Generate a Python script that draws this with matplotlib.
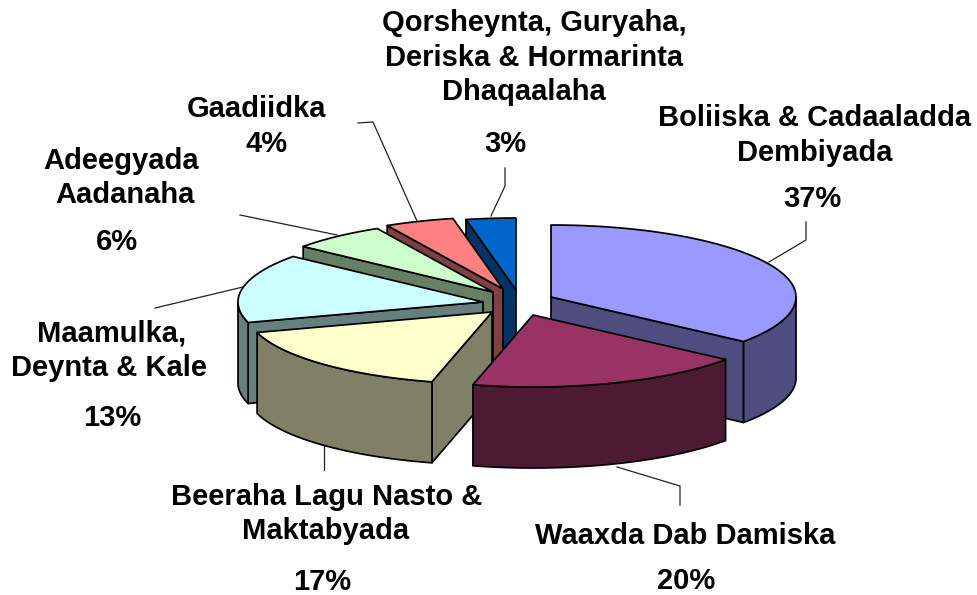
import numpy as np
import matplotlib
matplotlib.use("Agg")
import matplotlib.pyplot as plt
from matplotlib.patches import Polygon

plt.rcParams['font.family'] = ['Liberation Sans', 'DejaVu Sans']

# ---- data
categories = ["Boliiska & Cadaaladda Dembiyada", "Waaxda Dab Damiska",
              "Beeraha Lagu Nasto & Maktabyada", "Maamulka, Deynta & Kale",
              "Adeegyada Aadanaha", "Gaadiidka",
              "Qorsheynta, Guryaha, Deriska & Hormarinta Dhaqaalaha"]
values = [37, 20, 17, 13, 6, 4, 3]
label_lines = [["Boliiska & Cadaaladda", "Dembiyada"], ["Waaxda Dab Damiska"],
               ["Beeraha Lagu Nasto &", "Maktabyada"], ["Maamulka,", "Deynta & Kale"],
               ["Adeegyada", "Aadanaha"], ["Gaadiidka"],
               ["Qorsheynta, Guryaha,", "Deriska & Hormarinta", "Dhaqaalaha"]]

# ---- style / layout
top_colors = ["#9999FF", "#993366", "#FFFFCC", "#CCFFFF", "#CCFFCC", "#FF8080", "#0066CC"]
side_colors = ["#4D4D80", "#4D1A33", "#808066", "#668080", "#668066", "#804040", "#003366"]
RX, RY, DEPTH = 245.0, 72.0, 81.0
apex_layout = [(551, 297), (533, 315), (492, 312), (483, 302), (493, 292), (503, 289), (516, 290)]
draw_order = [6, 5, 4, 3, 2, 0, 1]
# perspective of the tilted pie: nominal angle -> apparent angle on the ellipse
persp_in = [0, 133, 205, 266, 313, 335, 349, 360]
persp_out = [0, 128, 194, 253, 309, 332, 348, 360]
TEXT_DROP = 9
text_layout = [
    [(815, 117), (815, 152), (812, 198)],
    [(685, 535), (686, 580)],
    [(327, 496), (326, 530), (322, 581)],
    [(112, 333), (109, 367), (112, 417)],
    [(121, 160), (125, 194), (117, 241)],
    [(257, 108), (267, 143)],
    [(534, 22), (534, 57), (524, 91), (505, 143)],
]
leader_layout = [
    [(769, 262), (806, 240), (806, 222)],
    [(617, 467), (680, 486), (680, 505)],
    [(324, 446), (324, 470)],
    [(243, 287), (155, 308)],
    [(337, 235), (240, 215)],
    [(417, 221), (373, 122), (358, 123)],
    [(491, 216), (505, 186), (505, 168)],
]
LW = 1.25

fig = plt.figure(figsize=(9.77, 5.95), dpi=100)
ax = fig.add_axes([0, 0, 1, 1])
ax.set_xlim(0, 977)
ax.set_ylim(595, 0)
ax.axis("off")

edges = np.concatenate([[0], np.cumsum(values)]) / sum(values) * 360.0


def persp(a):
    return np.interp(a, persp_in, persp_out)


def rim(apex, t):
    r = np.radians(t)
    return np.column_stack([apex[0] + RX * np.sin(r), apex[1] - RY * np.cos(r)])


def poly(points, color, z):
    ax.add_patch(Polygon(points, closed=True, facecolor=color, edgecolor="black",
                         linewidth=LW, joinstyle="round", zorder=z))


z = 2
for i in draw_order:
    apex = np.array(apex_layout[i], float)
    t0, t1 = persp(edges[i]), persp(edges[i + 1])
    ts = np.linspace(t0, t1, 80)
    arc = rim(apex, ts)
    drop = np.array([0, DEPTH])
    # radial cut faces: only those turned towards the viewer
    if np.sin(np.radians(t0)) < -1e-6:
        poly([apex, arc[0], arc[0] + drop, apex + drop], side_colors[i], z)
    if np.sin(np.radians(t1)) > 1e-6:
        poly([apex, arc[-1], arc[-1] + drop, apex + drop], side_colors[i], z)
    # outer wall: only the part facing the viewer (90..270 degrees)
    lo, hi = max(t0, 90), min(t1, 270)
    if hi > lo:
        wall = rim(apex, np.linspace(lo, hi, 80))
        poly(np.vstack([wall, (wall + drop)[::-1]]), side_colors[i], z + 0.1)
    # top
    poly(np.vstack([apex, arc]), top_colors[i], z + 0.2)
    z += 1

for pts in leader_layout:
    p = np.array(pts)
    ax.plot(p[:, 0], p[:, 1], color="#222222", lw=0.9, zorder=1)

for lines, val, pos in zip(label_lines, values, text_layout):
    for s, (x, y) in zip(lines + [f"{val}%"], pos):
        ax.text(x, y + TEXT_DROP, s, ha="center", va="baseline", fontsize=21, fontweight="bold",
                color="black", zorder=20)

fig.savefig("out.png", dpi=100, facecolor="white")
